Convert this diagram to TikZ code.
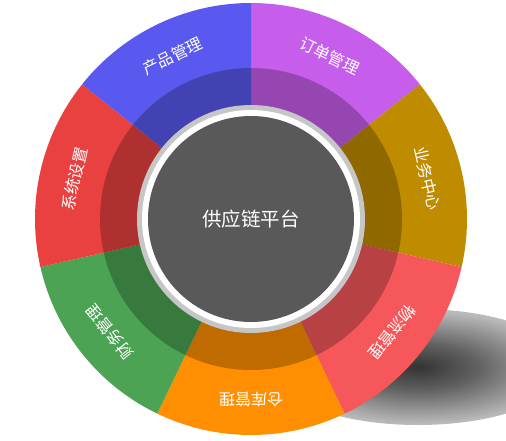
\documentclass[tikz,border=0pt]{standalone}
\usepackage{fontspec}
\newfontfamily\cjk{Noto Sans CJK SC}
\usetikzlibrary{calc}
\definecolor{cOrder}{RGB}{199,94,235}
\definecolor{cBiz}{RGB}{191,140,0}
\definecolor{cLogi}{RGB}{245,87,90}
\definecolor{cWare}{RGB}{255,143,0}
\definecolor{cFin}{RGB}{76,163,84}
\definecolor{cSys}{RGB}{233,65,64}
\definecolor{cProd}{RGB}{89,89,240}
\definecolor{cCore}{RGB}{89,89,89}
\definecolor{cRim}{RGB}{198,198,198}
\pgfdeclareradialshading{shadowfade}{\pgfpoint{0bp}{0bp}}{color(0bp)=(black!80); color(10bp)=(black!62); color(24bp)=(black!28); color(38bp)=(black!7); color(50bp)=(white)}
\tikzset{
  lbl/.style={text=white, font=\cjk\fontsize{16}{16}\selectfont, inner sep=0pt},
  corelbl/.style={text=white, font=\cjk\fontsize{19.5}{20}\selectfont, inner sep=0pt},
}
\begin{document}
\begin{tikzpicture}[x=1pt,y=1pt]
\useasboundingbox (0,0) rectangle (506,440);
\coordinate (O) at (251,221);
% shadow
\shade[shading=shadowfade] (418,73) ellipse [x radius=148, y radius=58];
% segments
\foreach \i/\col/\txt in {0/cOrder/订单管理,1/cBiz/业务中心,2/cLogi/物流管理,3/cWare/仓库管理,4/cFin/财务管理,5/cSys/系统设置,6/cProd/产品管理}{
  \pgfmathsetmacro\ea{90-51.428571*\i}
  \pgfmathsetmacro\sa{\ea-51.428571}
  \pgfmathsetmacro\ma{\ea-25.714286}
  \pgfmathsetmacro\rot{\ma-90}
  \fill[\col] (O) -- ($(O)+(\sa:216)$) arc[start angle=\sa, end angle=\ea, radius=216] -- cycle;
  \node[lbl, rotate=\rot] (l\i) at ($(O)+(\ma:181)$) {\txt};
}
% darker inner ring
\fill[black, opacity=0.25] (O) circle[radius=151];
% rim
\fill[cRim] (O) circle[radius=114];
\fill[white] (O) circle[radius=109];
\fill[cCore] (O) circle[radius=103];
\node[corelbl] (core) at (O) {供应链平台};
\end{tikzpicture}
\end{document}
